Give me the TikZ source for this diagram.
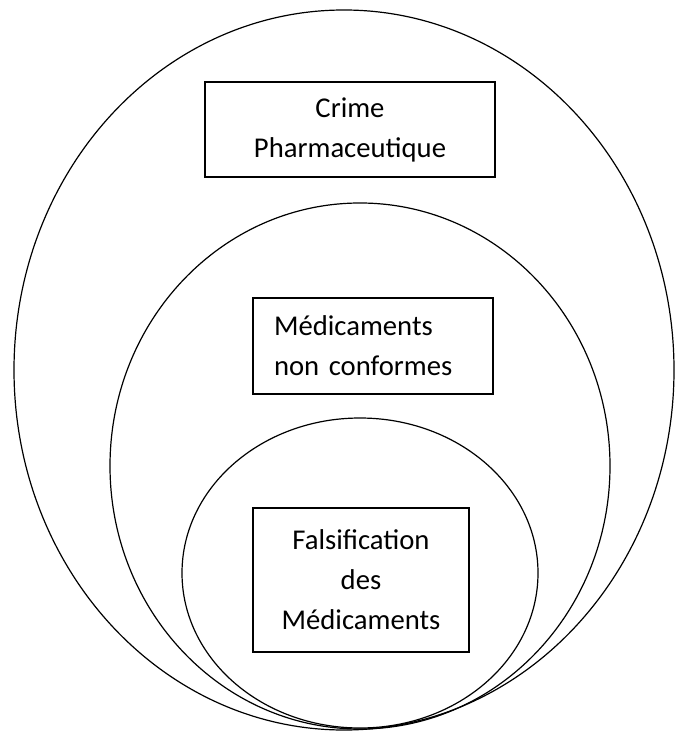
\documentclass[tikz,border=0pt]{standalone}
\usepackage{fontspec}
\setmainfont{Carlito}
\usepackage{tikz}

\begin{document}
\begin{tikzpicture}[x = .75pt, y = -.75pt,
	ring/.style = {draw = black, line width = .9pt},
	box/.style = {draw = black, line width = 1.5pt, shape = rectangle, inner xsep = 0pt, inner ysep = 0pt, font = \fontsize{21.5pt}{30pt}\selectfont}]
	\useasboundingbox (0,0) rectangle (675,731);
	\clip (0,0) rectangle (675,731);
	\draw[ring] (344,370) ellipse [x radius = 330, y radius = 360];
	\draw[ring] (360,466) ellipse [x radius = 250, y radius = 263];
	\draw[ring] (360,573) ellipse [x radius = 178, y radius = 155];
   	\node[box, minimum width = 217.5pt, minimum height = 71.25pt, text width = 217.5pt, align = center] (crime) at (350,129.5) {Crime\\Pharmaceutique};
    	\node[box, minimum width = 180pt, minimum height = 72pt, text width = 148.5pt, align = left] (nonconf) at (373,346) {M\'edicaments\\non conformes};
    	\node[box, minimum width = 162pt, minimum height = 108pt, text width = 162pt, align = center] (falsif) at (361,580) {Falsification\\des\\M\'edicaments};
    \end{tikzpicture}
\end{document}
